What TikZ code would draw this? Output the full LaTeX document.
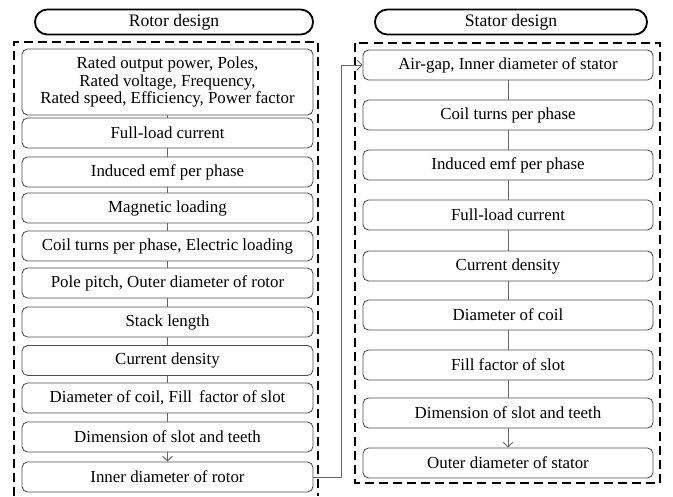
\documentclass[tikz,border=0pt]{standalone}
\usepackage{fontspec}
\setmainfont{Liberation Serif}
\usetikzlibrary{arrows.meta}

\begin{document}
\begin{tikzpicture}[x=0.025cm, y=-0.025cm,
        stepbox/.style={draw=black!70, line width=0.6pt, rounded corners=4pt,
            minimum width=7.275cm, minimum height=0.75cm, inner sep=1pt,
            align=center, font=\rmfamily\fontsize{12}{12.3}\selectfont},
        header/.style={draw, line width=1.3pt, rounded corners=0.31cm,
            minimum height=0.625cm, inner sep=1pt, font=\rmfamily\fontsize{12.5}{13}\selectfont},
        frame/.style={line width=1.4pt, dash pattern=on 6.4pt off 3.6pt},
        link/.style={draw=black!60, line width=0.6pt},
        linkarrow/.style={link, -{Straight Barb[length=3.5pt, width=7pt]}}]
        \useasboundingbox (0,0) rectangle (673,496);

        % Headers
        \node[header, minimum width=6.95cm] (hr) at (174,22) {Rotor design};
        \node[header, minimum width=6.8cm] (hs) at (511,22) {Stator design};

        % Frames
        \draw[frame] (14,496) -- (14,42) -- (318,42) -- (318,496);
        \draw[frame] (355,43) rectangle (660,483);

        % Rotor nodes
        \node[stepbox, minimum height=1.65cm] (r1) at (167.5,82) {Rated output power, Poles,\\ Rated voltage, Frequency,\\ Rated speed, Efficiency, Power factor};
        \node[stepbox] (r2) at (167.5,133) {Full-load current};
        \node[stepbox] (r3) at (167.5,172) {Induced emf per phase};
        \node[stepbox] (r4) at (167.5,208) {Magnetic loading};
        \node[stepbox] (r5) at (167.5,246) {Coil turns per phase, Electric loading};
        \node[stepbox] (r6) at (167.5,283) {Pole pitch, Outer diameter of rotor};
        \node[stepbox] (r7) at (167.5,322) {Stack length};
        \node[stepbox] (r8) at (167.5,360.5) {Current density};
        \node[stepbox] (r9) at (167.5,398) {Diameter of coil, Fill\, factor of slot};
        \node[stepbox] (r10) at (167.5,437) {Dimension of slot and teeth};
        \node[stepbox] (r11) at (167.5,477) {Inner diameter of rotor};

        % Stator nodes
        \node[stepbox, minimum width=7.25cm] (s1) at (508,65) {Air-gap, Inner diameter of stator};
        \node[stepbox, minimum width=7.25cm] (s2) at (508,115) {Coil turns per phase};
        \node[stepbox, minimum width=7.25cm] (s3) at (508,165) {Induced emf per phase};
        \node[stepbox, minimum width=7.25cm] (s4) at (508,215) {Full-load current};
        \node[stepbox, minimum width=7.25cm] (s5) at (508,266) {Current density};
        \node[stepbox, minimum width=7.25cm] (s6) at (508,315) {Diameter of coil};
        \node[stepbox, minimum width=7.25cm] (s7) at (508,365) {Fill factor of slot};
        \node[stepbox, minimum width=7.25cm] (s8) at (508,413) {Dimension of slot and teeth};
        \node[stepbox, minimum width=7.25cm] (s9) at (508,463) {Outer diameter of stator};

        % Rotor edges
        \draw[link] (r1) -- (r2);
        \draw[link] (r2) -- (r3);
        \draw[link] (r3) -- (r4);
        \draw[link] (r4) -- (r5);
        \draw[link] (r5) -- (r6);
        \draw[link] (r6) -- (r7);
        \draw[link] (r7) -- (r8);
        \draw[link] (r8) -- (r9);
        \draw[link] (r9) -- (r10);
        \draw[linkarrow] (r10) -- (r11);

        % Stator edges
        \draw[link] (s1) -- (s2);
        \draw[link] (s2) -- (s3);
        \draw[link] (s3) -- (s4);
        \draw[link] (s4) -- (s5);
        \draw[link] (s5) -- (s6);
        \draw[link] (s6) -- (s7);
        \draw[link] (s7) -- (s8);
        \draw[linkarrow] (s8) -- (s9);

        % Rotor to stator
        \draw[linkarrow] (r11.east) -- ++(28,0) |- (s1.west);
    \end{tikzpicture}
\end{document}
